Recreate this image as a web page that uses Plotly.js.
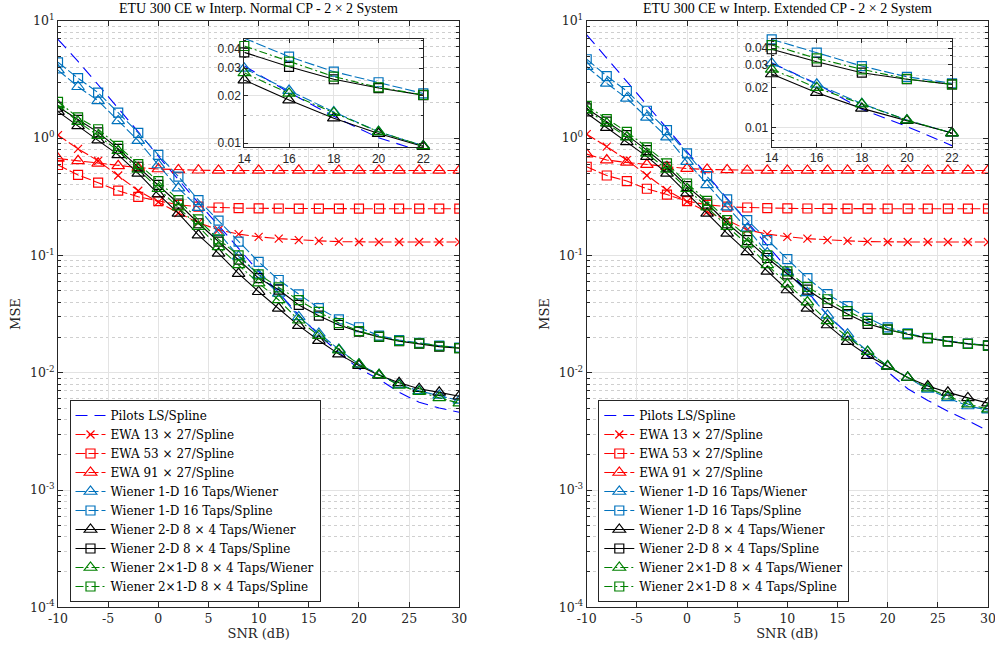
<!DOCTYPE html>
<html>
<head>
<meta charset="utf-8">
<script src="https://cdn.plot.ly/plotly-3.0.1.min.js"></script>
<style>html,body{margin:0;padding:0;background:#fff;}#chart{width:995px;height:649px;}</style>
</head>
<body>
<div id="chart"></div>
<script>
// ---------------- DATA ----------------
const snr = [-10,-8,-6,-4,-2,0,2,4,6,8,10,12,14,16,18,20,22,24,26,28,30];

const titles = ["ETU 300 CE w Interp. Normal CP - 2 \u00d7 2 System",
                "ETU 300 CE w Interp. Extended CP - 2 \u00d7 2 System"];

const seriesNames = [
  "Pilots LS/Spline",
  "EWA 13 \u00d7 27/Spline",
  "EWA 53 \u00d7 27/Spline",
  "EWA 91 \u00d7 27/Spline",
  "Wiener 1-D 16 Taps/Wiener",
  "Wiener 1-D 16 Taps/Spline",
  "Wiener 2-D 8 \u00d7 4 Taps/Wiener",
  "Wiener 2-D 8 \u00d7 4 Taps/Spline",
  "Wiener 2\u00d71-D 8 \u00d7 4 Taps/Wiener",
  "Wiener 2\u00d71-D 8 \u00d7 4 Taps/Spline"
];

// Left panel (Normal CP)
const pilotsL  = [6.95,4.5,2.85,1.8,1.13,0.70,0.44,0.28,0.18,0.115,0.073,0.048,0.031,0.021,0.0148,0.0108,0.0088,0.0068,0.0056,0.0050,0.0046];
const ewa13L   = [1.06,0.81,0.64,0.48,0.356,0.285,0.23,0.19,0.165,0.152,0.144,0.139,0.135,0.133,0.131,0.130,0.130,0.130,0.130,0.130,0.130];
const ewa53L   = [0.59,0.485,0.417,0.356,0.316,0.29,0.27,0.26,0.256,0.253,0.252,0.251,0.25,0.25,0.25,0.25,0.25,0.25,0.25,0.25,0.25];
const ewa91L   = [0.67,0.64,0.61,0.58,0.56,0.545,0.535,0.532,0.53,0.53,0.53,0.53,0.53,0.53,0.53,0.53,0.53,0.53,0.53,0.53,0.53];
const w1dWL    = [3.8,2.74,2.08,1.4,0.95,0.59,0.375,0.255,0.156,0.098,0.068,0.0475,0.0299,0.0216,0.0158,0.0118,0.0096,0.0079,0.0070,0.0064,0.0058];
const w1dSL    = [4.43,3.24,2.44,1.65,1.11,0.72,0.47,0.296,0.198,0.131,0.088,0.0617,0.0465,0.0355,0.0285,0.0244,0.0207,0.0190,0.0180,0.0170,0.0164];
const w2dWL    = [1.68,1.27,0.96,0.72,0.50,0.333,0.228,0.149,0.104,0.070,0.049,0.0354,0.0252,0.0188,0.0144,0.0115,0.0095,0.0082,0.0073,0.0068,0.0063];
const w2dSL    = [1.85,1.43,1.12,0.81,0.57,0.40,0.277,0.188,0.131,0.092,0.064,0.051,0.0378,0.0306,0.0255,0.0224,0.0202,0.0186,0.0177,0.0167,0.0162];
const w21WL    = [1.91,1.38,1.05,0.78,0.54,0.37,0.258,0.176,0.118,0.083,0.058,0.0417,0.028,0.0207,0.0156,0.0118,0.0096,0.0078,0.0069,0.0061,0.0055];
const w21SL    = [2.04,1.50,1.19,0.857,0.60,0.43,0.296,0.203,0.137,0.100,0.069,0.0534,0.0415,0.033,0.0265,0.0226,0.0203,0.0187,0.0178,0.0168,0.0162];

// Right panel (Extended CP)
const pilotsR  = [7.6,4.8,3.0,1.9,1.2,0.76,0.48,0.30,0.19,0.12,0.077,0.049,0.031,0.0215,0.0138,0.0102,0.0073,0.0058,0.0047,0.0039,0.0032];
const ewa13R   = [1.08,0.846,0.65,0.48,0.36,0.287,0.235,0.20,0.165,0.152,0.144,0.139,0.135,0.133,0.131,0.130,0.130,0.130,0.130,0.130,0.130];
const ewa53R   = [0.57,0.48,0.43,0.37,0.33,0.29,0.27,0.26,0.256,0.253,0.252,0.251,0.25,0.25,0.25,0.25,0.25,0.25,0.25,0.25,0.25];
const ewa91R   = [0.73,0.65,0.62,0.595,0.57,0.55,0.54,0.535,0.53,0.53,0.53,0.53,0.53,0.53,0.53,0.53,0.53,0.53,0.53,0.53,0.53];
const w1dWR    = [4.06,2.93,2.18,1.5,1.02,0.63,0.40,0.258,0.17,0.105,0.072,0.048,0.0308,0.0213,0.0152,0.0114,0.0091,0.0072,0.0061,0.0052,0.0048];
const w1dSR    = [4.7,3.38,2.52,1.71,1.17,0.74,0.475,0.30,0.20,0.135,0.093,0.064,0.0467,0.037,0.0293,0.0243,0.0217,0.0198,0.0186,0.0177,0.0171];
const w2dWR    = [1.63,1.23,0.93,0.695,0.50,0.34,0.228,0.154,0.107,0.073,0.0507,0.0354,0.0255,0.0184,0.0140,0.0113,0.0091,0.0077,0.0068,0.0061,0.0055];
const w2dSR    = [1.79,1.38,1.06,0.79,0.57,0.39,0.277,0.188,0.135,0.095,0.069,0.051,0.0393,0.0316,0.0261,0.0233,0.0213,0.0197,0.0185,0.0176,0.0170];
const w21WR    = [1.74,1.34,1.02,0.74,0.54,0.37,0.258,0.176,0.125,0.083,0.057,0.040,0.0277,0.0201,0.0151,0.0114,0.0091,0.0074,0.0063,0.0054,0.0049];
const w21SR    = [1.88,1.45,1.13,0.835,0.61,0.41,0.292,0.20,0.145,0.100,0.073,0.054,0.0423,0.0335,0.0277,0.0234,0.0213,0.0197,0.0185,0.0176,0.0170];

const xTicks = [-10,-5,0,5,10,15,20,25,30];
const xTickText = ["-10","-5","0","5","10","15","20","25","30"];
const yTickVals = [1e-4,1e-3,1e-2,1e-1,1,10];
const yTickText = ["10<sup>-4</sup>","10<sup>-3</sup>","10<sup>-2</sup>","10<sup>-1</sup>","10<sup>0</sup>","10<sup>1</sup>"];
const insetX = [14,16,18,20,22];
const insetYVals = [0.01,0.02,0.03,0.04];
const insetYText = ["0.01","0.02","0.03","0.04"];

// ---------------- STYLES ----------------
const RED = "#ff0000", LB = "#0072BD", BLK = "#000000", GRN = "#008000", BLUE = "#0000ff";
const styles = [
  {color: BLUE, dash: "12px,7px", symbol: null},
  {color: RED, dash: "10px,3px", symbol: "x-thin-open", size: 8},
  {color: RED, dash: "10px,3px", symbol: "square-open", size: 9},
  {color: RED, dash: "10px,3px", symbol: "triangle-up-open", size: 11},
  {color: LB, dash: "10px,3px", symbol: "triangle-up-open", size: 11},
  {color: LB, dash: "10px,3px", symbol: "square-open", size: 9},
  {color: BLK, dash: "solid", symbol: "triangle-up-open", size: 11},
  {color: BLK, dash: "solid", symbol: "square-open", size: 9},
  {color: GRN, dash: "8px,3px,2px,3px", symbol: "triangle-up-open", size: 11},
  {color: GRN, dash: "8px,3px,2px,3px", symbol: "square-open", size: 9}
];

const leftData  = [pilotsL, ewa13L, ewa53L, ewa91L, w1dWL, w1dSL, w2dWL, w2dSL, w21WL, w21SL];
const rightData = [pilotsR, ewa13R, ewa53R, ewa91R, w1dWR, w1dSR, w2dWR, w2dSR, w21WR, w21SR];

function mk(i, xs, ys, xa, ya, legendName, showleg, clip) {
  const s = styles[i];
  const t = {
    type: "scatter", x: xs, y: ys, xaxis: xa, yaxis: ya,
    name: seriesNames[i], showlegend: showleg, legend: legendName,
    line: {color: s.color, width: 1.1, dash: s.dash},
    cliponaxis: clip
  };
  if (s.symbol) {
    t.mode = "lines+markers";
    t.marker = {symbol: s.symbol, size: s.size, color: s.color, line: {color: s.color, width: 1.2}};
  } else {
    t.mode = "lines";
  }
  return t;
}

const traces = [];
leftData.forEach((d, i) => traces.push(mk(i, snr, d, "x", "y", "legend", true, true)));
rightData.forEach((d, i) => traces.push(mk(i, snr, d, "x2", "y2", "legend2", true, true)));
const i0 = snr.indexOf(14), i1 = snr.indexOf(22) + 1;
leftData.forEach((d, i) => traces.push(mk(i, snr.slice(i0, i1), d.slice(i0, i1), "x3", "y3", "legend", false, false)));
rightData.forEach((d, i) => traces.push(mk(i, snr.slice(i0, i1), d.slice(i0, i1), "x4", "y4", "legend2", false, false)));

// ---------------- LAYOUT ----------------
const AX = "#262626";
const SERIF = "DejaVu Serif, serif";
const TSERIF = "Liberation Serif, serif";
const SANS = "Liberation Sans, Arial, sans-serif";

function mainX(dom, anchor) {
  return {domain: dom, anchor: anchor, range: [-10, 30], tickvals: xTicks, ticktext: xTickText, ticks: "inside", ticklen: 5,
    showline: true, linecolor: AX, linewidth: 1, mirror: "ticks", tickcolor: AX, ticklabeloverflow: "allow",
    showgrid: true, gridcolor: "#e3e3e3", gridwidth: 1, zeroline: false,
    tickfont: {family: SERIF, size: 12.5, color: AX},
    title: {text: "SNR (dB)", font: {family: SERIF, size: 13, color: AX}, standoff: 2}};
}
function mainY(dom, anchor) {
  return {domain: dom, anchor: anchor, type: "log", range: [-4, 1], tickvals: yTickVals, ticktext: yTickText,
    ticks: "inside", ticklen: 5, showline: true, linecolor: AX, linewidth: 1, mirror: "ticks", tickcolor: AX,
    showgrid: true, gridcolor: "#e3e3e3", zeroline: false,
    minor: {dtick: "D1", ticks: "inside", ticklen: 3, tickcolor: AX, showgrid: true, gridcolor: "#cfcfcf", griddash: "dot", gridwidth: 1},
    tickfont: {family: SERIF, size: 12.5, color: AX},
    title: {text: "MSE", font: {family: SERIF, size: 13, color: AX}, standoff: 6}};
}
function insetXax(dom, anchor) {
  return {domain: dom, anchor: anchor, range: [14, 22], tickvals: insetX, ticks: "inside", ticklen: 4,
    showline: true, linecolor: AX, linewidth: 1, mirror: "ticks", tickcolor: AX,
    showgrid: true, gridcolor: "#e3e3e3", zeroline: false,
    tickfont: {family: SANS, size: 12, color: AX}};
}
function insetYax(dom, anchor, rng) {
  return {domain: dom, anchor: anchor, type: "log", range: rng, tickvals: insetYVals, ticktext: insetYText,
    ticks: "inside", ticklen: 4, showline: true, linecolor: AX, linewidth: 1, mirror: "ticks", tickcolor: AX,
    showgrid: true, gridcolor: "#e3e3e3", zeroline: false,
    minor: {tickvals: [0.005,0.006,0.007,0.008,0.009,0.015,0.025,0.035,0.045], ticks: "inside", ticklen: 2, tickcolor: AX, showgrid: true, gridcolor: "#cfcfcf", griddash: "dot"},
    tickfont: {family: SANS, size: 12, color: AX}};
}

const W = 995, H = 649;
const px = (a, b) => [a / W, b / W];
const py = (top, bot) => [(H - bot) / H, (H - top) / H];

const legendBase = {
  bgcolor: "#ffffff", bordercolor: AX, borderwidth: 1,
  font: {family: SERIF, size: 12, color: "#000"},
  xanchor: "left", yanchor: "top", tracegroupgap: 0, itemwidth: 30
};

const layout = {
  width: W, height: H, margin: {l: 0, r: 0, t: 0, b: 0},
  paper_bgcolor: "#fff", plot_bgcolor: "#fff",
  xaxis: mainX(px(58, 459.3), "y"),
  yaxis: mainY(py(20.8, 607.3), "x"),
  xaxis2: mainX(px(586.7, 988), "y2"),
  yaxis2: mainY(py(20.8, 607.3), "x2"),
  xaxis3: insetXax(px(244.3, 423.3), "y3"),
  yaxis3: insetYax(py(39, 147.3), "x3", [Math.log10(0.0094), Math.log10(0.046)]),
  xaxis4: insetXax(px(771.7, 952), "y4"),
  yaxis4: insetYax(py(39, 146.7), "x4", [Math.log10(0.00717), Math.log10(0.047)]),
  legend: Object.assign({}, legendBase, {x: 69.5 / W, y: (H - 400) / H}),
  legend2: Object.assign({}, legendBase, {x: 598.3 / W, y: (H - 400) / H}),
  annotations: [
    {text: titles[0], xref: "paper", yref: "paper", x: 258.5 / W, y: (H - 9) / H, showarrow: false,
     xanchor: "center", yanchor: "middle", font: {family: TSERIF, size: 14, color: "#000"}},
    {text: titles[1], xref: "paper", yref: "paper", x: 787.5 / W, y: (H - 9) / H, showarrow: false,
     xanchor: "center", yanchor: "middle", font: {family: TSERIF, size: 14, color: "#000"}}
  ],
  showlegend: true
};

Plotly.newPlot("chart", traces, layout, {staticPlot: true, displayModeBar: false});
</script>
</body>
</html>
